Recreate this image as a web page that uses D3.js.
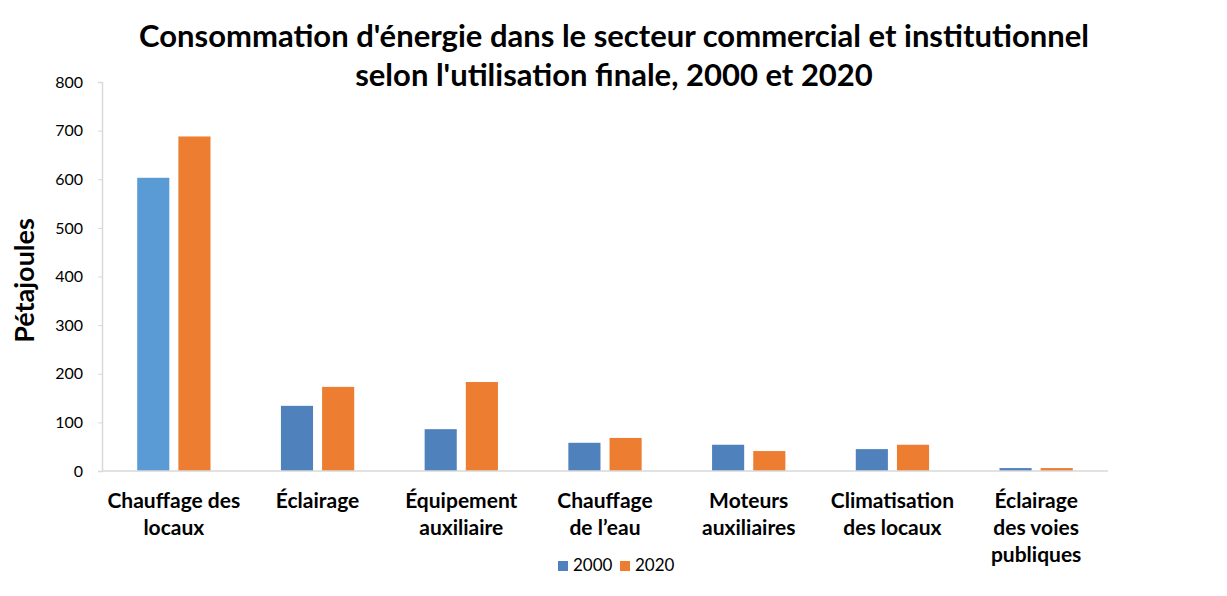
<!DOCTYPE html>
<html>
<head>
<meta charset="utf-8">
<script src="https://cdn.jsdelivr.net/npm/d3@7"></script>
<style>
  body { margin: 0; background: #fff; }
  svg { font-family: Lato, "Open Sans", sans-serif; }
</style>
</head>
<body>
<div id="chart"></div>
<script>
const categories = [
    ["Chauffage des", "locaux"],
    ["Éclairage"],
    ["Équipement", "auxiliaire"],
    ["Chauffage", "de l’eau"],
    ["Moteurs", "auxiliaires"],
    ["Climatisation", "des locaux"],
    ["Éclairage", "des voies", "publiques"]
];
const values2000 = [603, 134, 86, 58, 54, 45, 6];
const values2020 = [688, 173, 183, 68, 41, 54, 6];
const seriesNames = ["2000", "2020"];
const yTicks = [0, 100, 200, 300, 400, 500, 600, 700, 800];

const width = 1227, height = 596;
const margin = { top: 82, right: 119, bottom: 125, left: 102 };

const svg = d3.select('#chart').append('svg')
    .attr('width', width)
    .attr('height', height);

const colors = ["#4F81BD", "#ED7D31"];

const x0 = d3.scaleBand()
    .domain(d3.range(categories.length))
    .range([margin.left, width - margin.right])
    .paddingInner(0.49)
    .paddingOuter(0.245);

const x1 = d3.scaleBand()
    .domain(seriesNames)
    .range([0, x0.bandwidth()])
    .paddingInner(0.22);

const y = d3.scaleLinear()
    .domain([0, 800])
    .range([height - margin.bottom, margin.top]);

// title
svg.append('text')
    .attr('x', 614).attr('y', 47)
    .attr('text-anchor', 'middle')
    .style('font-size', '31px').style('font-weight', 'bold')
    .text("Consommation d'énergie dans le secteur commercial et institutionnel");
svg.append('text')
    .attr('x', 614).attr('y', 86)
    .attr('text-anchor', 'middle')
    .style('font-size', '31px').style('font-weight', 'bold')
    .text("selon l'utilisation finale, 2000 et 2020");

// y axis
const yAxis = svg.append('g')
    .attr('transform', `translate(${margin.left},0)`)
    .call(d3.axisLeft(y).tickValues(yTicks).tickSize(4).tickPadding(15));
yAxis.select('.domain').attr('stroke', '#d9d9d9').attr('stroke-width', 1.5);
yAxis.selectAll('.tick line').attr('stroke', '#d9d9d9');
yAxis.selectAll('.tick text')
    .style('font-size', '16px').attr('fill', '#000')
    .style('font-family', 'Lato, sans-serif');

svg.append('text')
    .attr('transform', `translate(34,${(margin.top + height - margin.bottom) / 2 + 4}) rotate(-90)`)
    .attr('text-anchor', 'middle')
    .style('font-size', '27px').style('font-weight', 'bold')
    .text('Pétajoules');

// bars
const groups = svg.append('g').selectAll('g')
    .data(categories.map((c, i) => ({ i, vals: [values2000[i], values2020[i]] })))
    .join('g')
    .attr('transform', d => `translate(${x0(d.i)},0)`);

groups.selectAll('rect')
    .data(d => d.vals.map((v, k) => ({ v, k, i: d.i })))
    .join('rect')
    .attr('x', d => x1(seriesNames[d.k]))
    .attr('y', d => y(d.v))
    .attr('width', x1.bandwidth())
    .attr('height', d => y(0) - y(d.v))
    .attr('fill', d => (d.i === 0 && d.k === 0) ? "#5B9BD5" : colors[d.k]);

// x axis
svg.append('line')
    .attr('x1', margin.left).attr('x2', width - margin.right)
    .attr('y1', y(0)).attr('y2', y(0))
    .attr('stroke', '#d9d9d9').attr('stroke-width', 1.5);

const xLabels = svg.append('g').selectAll('text')
    .data(categories)
    .join('text')
    .attr('x', (d, i) => x0(i) + x0.bandwidth() / 2)
    .attr('y', 508)
    .attr('text-anchor', 'middle')
    .style('font-size', '21px').style('font-weight', 'bold');
xLabels.selectAll('tspan')
    .data(d => d)
    .join('tspan')
    .attr('x', function () { return this.parentNode.getAttribute('x'); })
    .attr('dy', (d, j) => j === 0 ? 0 : 27)
    .text(d => d);

// legend
const legend = svg.append('g').selectAll('g')
    .data(seriesNames)
    .join('g')
    .attr('transform', (d, i) => `translate(${558 + i * 62},561)`);
legend.append('rect')
    .attr('width', 10).attr('height', 10)
    .attr('fill', (d, i) => colors[i]);
legend.append('text')
    .attr('x', 15).attr('y', 10)
    .style('font-size', '17px')
    .text(d => d);
</script>
</body>
</html>
